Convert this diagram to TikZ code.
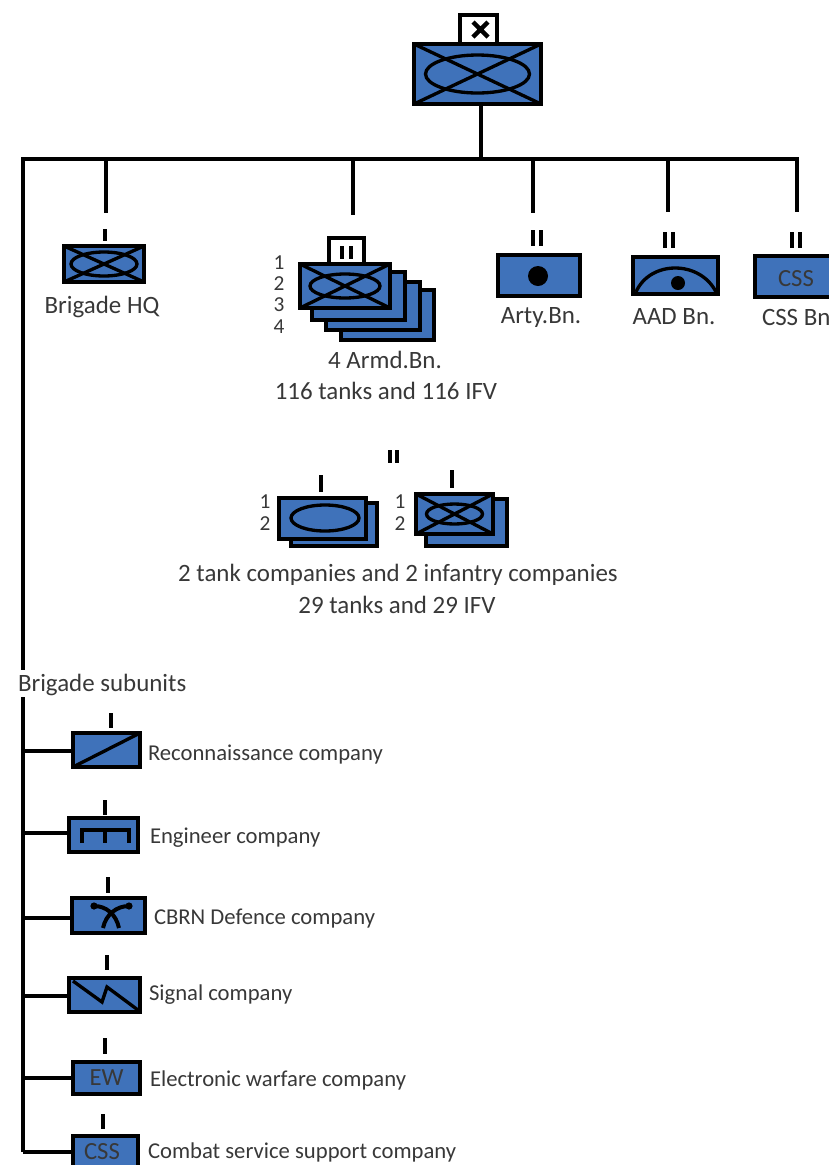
\documentclass[tikz,border=0pt]{standalone}
\usepackage{fontspec}
\setmainfont{Carlito}
\definecolor{unitblue}{HTML}{3F72BA}
\definecolor{labelgrey}{HTML}{383838}
\tikzset{
  x=0.75pt,y=-0.75pt,
  unitbox/.style={draw=black,fill=unitblue,line width=2.9pt,inner sep=0pt,outer sep=0pt,text=labelgrey,font=\fontsize{18.5pt}{20pt}\selectfont},
  echbox/.style={unitbox,fill=white,text=black},
  linkline/.style={draw=black,line width=2.6pt},
  echmark/.style={draw=black,line width=3pt},
  symline/.style={draw=black,line width=2.5pt},
  lbl/.style={text=labelgrey,font=\fontsize{18.7pt}{20pt}\selectfont,inner sep=0pt,outer sep=0pt},
  numlbl/.style={text=labelgrey,font=\fontsize{16pt}{18pt}\selectfont,inner sep=0pt,outer sep=0pt},
  lefttext/.style={lbl,anchor=west},
  sidetext/.style={lbl,anchor=west,font=\fontsize{17pt}{20pt}\selectfont},
  boxtext/.style={text=labelgrey,font=\fontsize{18.5pt}{20pt}\selectfont,inner sep=0pt},
}
\newcommand{\ubox}[6][unitbox]{%
  \pgfmathsetmacro\cx{(#3+#5)/2}\pgfmathsetmacro\cy{(#4+#6)/2}%
  \pgfmathsetmacro\ww{abs(#5-#3)*0.75}\pgfmathsetmacro\hh{abs(#6-#4)*0.75}%
  \node[#1,minimum width=\ww pt,minimum height=\hh pt] (#2) at (\cx,\cy)}
\newcommand{\crossed}[3]{%
  \draw[symline] (#1.north west) -- (#1.south east);
  \draw[symline] (#1.south west) -- (#1.north east);
  \draw[symline] (#1.center) ellipse [x radius=#2,y radius=#3];}
\begin{document}
\begin{tikzpicture}
\useasboundingbox (0,0) rectangle (829,1165);
\clip (0,0) rectangle (829,1165);

% brigade symbol
\ubox{brigade}{414}{44}{541}{104} {};
\crossed{brigade}{52}{19}
\ubox[echbox]{brigech}{460}{15}{497}{44} {};
\draw[line width=3.2pt] (473,22) -- (488,37) (488,22) -- (473,37);

% trunk
\coordinate (junction) at (481,159);
\coordinate (busL) at (23,159);
\coordinate (busR) at (797,159);
\coordinate (trunkEnd) at (23,668);
\coordinate (subTop) at (23,697);
\coordinate (subEnd) at (23,1152);
\draw[linkline] (brigade.south -| junction) -- (junction);
\draw[linkline,line cap=rect] (busR) -- (busL) -- (trunkEnd);
\draw[linkline] (subTop) -- (subEnd);

% drops
\coordinate (dHQ) at (106,159);   \coordinate (dHQe) at (106,213);
\coordinate (dAr) at (353,159);   \coordinate (dAre) at (353,215);
\coordinate (dAt) at (533,159);   \coordinate (dAte) at (533,213);
\coordinate (dAA) at (668,159);   \coordinate (dAAe) at (668,212);
\coordinate (dCS) at (797,159);   \coordinate (dCSe) at (797,212);
\draw[linkline] (dHQ) -- (dHQe);
\draw[linkline] (dAr) -- (dAre);
\draw[linkline] (dAt) -- (dAte);
\draw[linkline] (dAA) -- (dAAe);
\draw[linkline] (dCS) -- (dCSe);

% Brigade HQ
\draw[echmark] (105,229) -- (105,241);
\ubox{hq}{64}{246}{144}{282} {};
\crossed{hq}{33}{12}
\node[lbl] (hqt) at (102,307) {Brigade HQ};

% Armoured battalions
\ubox{ar4}{341}{290}{434}{340} {};
\ubox{ar3}{326}{282}{420}{330} {};
\ubox{ar2}{312}{272}{405}{320} {};
\ubox[echbox]{arech}{329}{238}{364}{264} {};
\draw[echmark] (342,246) -- (342,259) (351,246) -- (351,259);
\ubox{ar1}{300}{264}{390}{308} {};
\crossed{ar1}{35}{12}
\node[numlbl] (an1) at (279,263) {1};
\node[numlbl] (an2) at (279,284) {2};
\node[numlbl] (an3) at (279,305) {3};
\node[numlbl] (an4) at (279,327) {4};
\node[lbl] (art1) at (385,360) {4 Armd.Bn.};
\node[lbl] (art2) at (386,391) {116 tanks and 116 IFV};

% Artillery
\draw[echmark] (533,230) -- (533,246) (541,230) -- (541,246);
\ubox{arty}{498}{255}{580}{296} {};
\fill (538,276) circle [radius=10];
\node[lbl] (artyt) at (541,318) {Arty.Bn.};

% Air defence
\draw[echmark] (665,232) -- (665,248) (673,232) -- (673,248);
\ubox{aad}{633}{257}{718}{294} {};
\draw[symline] (636,292) .. controls (650,260) and (700,260) .. (716,292);
\fill (678,283) circle [radius=7];
\node[lbl] (aadt) at (674,317) {AAD Bn.};

% CSS
\draw[echmark] (792,232) -- (792,248) (800,232) -- (800,248);
\ubox{css}{755}{256}{845}{297} {};
\node[boxtext] (csst) at (796,279) {CSS};
\node[lefttext] (cssl) at (762,317) {CSS Bn};

% Battalion composition
\draw[echmark] (390,450) -- (390,463) (397,450) -- (397,463);
\draw[echmark] (321,475) -- (321,492);
\ubox{tk2}{291}{503}{377}{546} {};
\ubox{tk1}{279}{498}{366}{539} {};
\draw[symline] (325,518) ellipse [x radius=34,y radius=13];
\node[numlbl] (tn1) at (265,502) {1};
\node[numlbl] (tn2) at (265,524) {2};
\draw[echmark] (452,470) -- (452,488);
\ubox{in2}{426}{499}{507}{546} {};
\ubox{in1}{416}{494}{493}{534} {};
\crossed{in1}{28}{10}
\node[numlbl] (in1n) at (400,502) {1};
\node[numlbl] (in2n) at (400,524) {2};
\node[lbl] (ct1) at (398,575) {2 tank companies and 2 infantry companies};
\node[lbl] (ct2) at (397,605) {29 tanks and 29 IFV};

% Subunits
\node[lefttext] (subt) at (18,685) {Brigade subunits};

% Reconnaissance
\draw[echmark] (111,713) -- (111,728);
\ubox{rec}{73}{733}{140}{767} {};
\draw[symline] (rec.south west) -- (rec.north east);
\coordinate (jrec) at (23,751);
\draw[linkline] (jrec) -- (jrec -| rec.west);
\node[sidetext] (rect) at (148,755) {Reconnaissance company};

% Engineer
\draw[echmark] (105,800) -- (105,815);
\ubox{eng}{69}{818}{138}{852} {};
\draw[line width=2.9pt] (82,843) -- (82,830) -- (129,830) -- (129,843) (105,830) -- (105,843);
\coordinate (jeng) at (23,833);
\draw[linkline] (jeng) -- (jeng -| eng.west);
\node[sidetext] (engt) at (150,838) {Engineer company};

% CBRN
\draw[echmark] (108,877) -- (108,893);
\ubox{cbrn}{72}{898}{145}{933} {};
\draw[line width=3pt] (94,906) .. controls (106,906) and (116,914) .. (119,928);
\draw[line width=3pt] (129,906) .. controls (117,906) and (106,914) .. (103,928);
\fill (94,906) circle [radius=3.6] (129,906) circle [radius=3.6];
\coordinate (jcbrn) at (23,918);
\draw[linkline] (jcbrn) -- (jcbrn -| cbrn.west);
\node[sidetext] (cbrnt) at (154,919) {CBRN Defence company};

% Signal
\draw[echmark] (107,955) -- (107,970);
\ubox{sig}{69}{978}{140}{1012} {};
\draw[symline] (73,981) -- (102,1002) -- (107,987) -- (138,1010);
\coordinate (jsig) at (23,996);
\draw[linkline] (jsig) -- (jsig -| sig.west);
\node[sidetext] (sigt) at (149,995) {Signal company};

% Electronic warfare
\draw[echmark] (105,1038) -- (105,1054);
\ubox{ew}{73}{1062}{140}{1094} {EW};
\coordinate (jew) at (23,1078);
\draw[linkline] (jew) -- (jew -| ew.west);
\node[sidetext] (ewt) at (150,1080) {Electronic warfare company};

% Combat service support
\draw[echmark] (103,1114) -- (103,1129);
\ubox{sup}{73}{1136}{138}{1172} {};
\node[boxtext] (supt) at (102,1152) {CSS};
\draw[linkline] (subEnd) -- (subEnd -| sup.west);
\node[sidetext] (supl) at (148,1152) {Combat service support company};
\end{tikzpicture}
\end{document}
